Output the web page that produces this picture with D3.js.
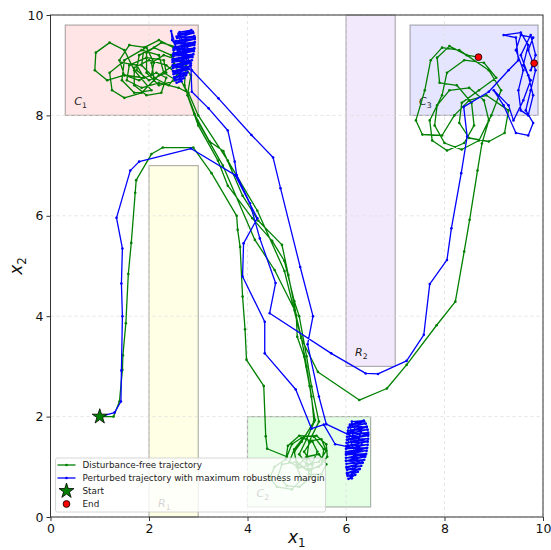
<!DOCTYPE html>
<html>
<head>
<meta charset="utf-8">
<script src="https://cdn.jsdelivr.net/npm/d3@7"></script>
<style>
  body { margin: 0; background: #fff; }
  text { font-family: "DejaVu Sans", sans-serif; }
</style>
</head>
<body>
<svg id="chart" width="551" height="550"></svg>
<script>

var xTicks = [0, 2, 4, 6, 8, 10];
var yTicks = [0, 2, 4, 6, 8, 10];

// regions: [x0, x1, y0, y1]
var regionNames = ["C1", "C2", "C3", "R1", "R2"];
var regionBounds = [[0.3, 3.0, 8.0, 9.8], [4.0, 6.5, 0.2, 2.0], [7.3, 9.9, 8.0, 9.8],
                    [2.0, 3.0, 0.0, 7.0], [6.0, 7.0, 3.0, 10.0]];

var startPoint = [1.0, 2.0];
var endPoints = [[8.69, 9.16], [9.82, 9.04]];

var greenPath = [
    [1.0,2.0],[1.28,2.0],[1.40,2.3],[1.46,2.93],[1.47,3.22],[1.53,3.86],[1.58,4.84],[1.64,5.46],[1.72,6.46],[1.74,6.71],
    [2.05,7.23],[2.28,7.36],[2.9,7.36],[3.27,6.85],[3.78,6.0],[3.8,5.72],[3.85,5.38],[3.9,4.39],[3.95,3.74],[3.98,3.13],
    [4.33,2.61],[4.37,1.61],[4.4,1.36],[4.8,1.2],
    [4.9,1.45],[5.1,1.58],[5.32,1.5],[5.42,1.3],[5.3,1.05],[5.05,0.98],[4.85,1.1],[4.95,1.35],[5.15,1.6],[5.4,1.62],
    [5.6,1.45],[5.62,1.2],[5.45,1.0],[5.2,0.95],[5.0,1.1],[4.7,1.05],[4.62,0.82],[4.8,0.62],[5.05,0.6],[5.28,0.78],
    [5.32,1.05],[5.15,1.3],[5.3,1.52],[5.5,1.55],[5.6,1.32],[5.45,1.1],[5.2,1.05],[5.05,1.25],[5.2,1.55],[5.37,1.93],
    [5.26,2.61],[5.15,3.19],[5.01,3.59],[4.99,4.02],[4.83,4.82],[4.7,5.42],[4.22,5.9],[3.9,6.4],[3.51,7.29],[3.23,7.48],
    [2.92,8.03],[2.72,8.6],
    [2.75,9.0],[2.6,9.35],[2.25,9.45],[1.95,9.25],[1.95,8.85],[2.2,8.6],[2.55,8.7],[2.3,8.85],[2.2,9.2],[1.85,9.3],
    [1.5,9.1],[1.45,8.7],[1.7,8.45],[2.05,8.5],[1.7,8.9],[1.5,9.3],[1.2,9.45],[0.92,9.25],[0.9,8.9],[1.15,8.7],
    [1.5,8.8],[1.9,8.75],[1.75,9.0],[1.45,9.05],[1.2,8.85],[1.25,8.5],[1.5,8.35],[1.85,8.45],[2.2,8.8],[2.5,9.0],
    [2.5,9.35],[2.2,9.5],[1.9,9.35],[1.85,9.0],[2.05,8.8],[2.1,9.05],[1.95,9.35],[1.6,9.4],[1.4,9.1],[1.5,8.8],
    [1.8,8.7],[2.15,8.85],[2.35,8.75],[2.25,8.45],[1.95,8.4],[1.7,8.6],[1.7,8.95],[2.0,9.1],[2.35,9.0],[2.6,8.8],
    [2.75,8.5],[2.98,7.9],[3.5,7.0],[4.15,5.52],[4.55,4.92],[4.96,4.12],[5.09,3.59],[5.2,3.0],[5.3,2.4],[5.35,1.9],
    [5.1,1.5],[4.95,1.3],[5.0,1.05],[5.25,0.92],[5.5,1.05],[5.55,1.35],[5.35,1.6],[5.05,1.62],[4.82,1.42],[4.78,1.15],
    [4.55,1.0],[4.45,0.78],[4.6,0.6],[4.9,0.55],[5.1,0.75],[5.0,1.0],[5.2,1.2],[5.45,1.25],[5.6,1.05],[5.5,0.85],
    [5.25,0.85],[5.2,1.15],[5.25,1.5],
    [5.45,1.9],[5.3,2.6],[5.2,3.2],[5.05,4.0],[4.95,4.3],[4.75,5.1],[4.5,5.5],[4.1,5.95],[3.6,6.6],[3.4,7.1],
    [3.0,7.8],[2.78,8.4],
    [2.85,8.8],[2.6,9.1],[2.3,9.2],[2.05,9.05],[2.1,8.75],[2.4,8.6],[2.6,8.85],[2.45,9.2],[2.1,9.35],[1.8,9.2],
    [1.75,8.9],[2.0,8.7],[2.35,8.85],[2.3,9.1],[1.95,9.15],[1.6,9.0],[1.55,8.7],[1.85,8.55],[2.2,8.65],[2.6,8.55],
    [2.8,8.45],
    [3.0,8.0],[3.6,7.1],[4.2,6.1],[4.75,4.9],[5.09,3.56],[5.43,2.89],[6.27,2.33],[6.83,2.56],[7.23,3.03],[7.84,3.82],
    [8.22,4.29],[8.40,5.29],[8.51,5.92],[8.67,6.9],[8.76,7.44],
    [8.9,7.9],[8.8,8.3],[8.5,8.55],[8.1,8.5],[7.85,8.2],[7.8,7.8],[8.0,7.45],[8.35,7.32],[8.7,7.5],[8.95,8.0],
    [9.15,8.5],[8.9,8.9],[8.3,9.3],[7.95,9.35],[7.72,9.1],[7.6,8.5],[7.42,7.9],[7.55,7.62],[7.95,7.6],[8.2,8.0],
    [8.5,8.3],[8.85,8.4],[9.3,8.1],[9.22,7.65],[8.9,7.48],[8.5,7.55],[8.3,7.85],[8.35,8.25],[8.7,8.5],[9.05,8.75],
    [8.8,9.05],[8.4,9.1],[8.05,8.85],[7.95,8.4],[7.7,7.9],[7.75,7.5],[8.05,7.3],[8.4,7.45],[8.6,7.8],[8.55,8.25],
    [8.25,8.6],[7.9,8.65],[7.85,9.15],[8.1,9.38],[8.45,9.2],[8.69,9.16]
];

var bluePath = [
    [1.0,2.0],[1.3,2.08],[1.43,2.3],[1.44,2.92],[1.46,4.0],[1.44,4.65],[1.46,5.35],[1.34,5.96],[1.62,6.9],[1.8,7.08],
    [2.85,7.34],[3.75,6.81],[4.2,5.95],[3.92,5.45],[3.9,4.79],[4.35,3.89],[4.35,3.26],[4.98,2.54],[5.3,1.76],[5.55,1.84],
    [5.78,1.45],[6.03,1.4],
    // hovering in C2
    [6.12,1.9],[6.36,1.92],[6.08,1.84],[6.4,1.86],[6.05,1.78],[6.42,1.8],[6.04,1.72],[6.44,1.74],[6.03,1.66],[6.45,1.68],
    [6.02,1.6],[6.45,1.62],[6.02,1.54],[6.45,1.56],[6.01,1.48],[6.44,1.5],[6.01,1.42],[6.44,1.44],[6.0,1.36],[6.43,1.38],
    [6.0,1.3],[6.42,1.32],[6.0,1.24],[6.41,1.26],[6.0,1.18],[6.39,1.2],[6.0,1.12],[6.37,1.14],[6.01,1.06],[6.34,1.08],
    [6.01,1.0],[6.31,1.02],[6.02,0.94],[6.28,0.96],[6.02,0.88],[6.24,0.9],[6.03,0.82],[6.19,0.84],[6.05,0.76],[6.12,0.77],
    [6.02,0.86],[6.27,0.95],[6.01,0.98],[6.33,1.09],[6.0,1.12],[6.39,1.23],[6.0,1.26],[6.42,1.37],[6.01,1.4],[6.44,1.51],
    [6.02,1.54],[6.45,1.65],[6.04,1.68],[6.42,1.79],[6.08,1.82],[6.37,1.9],[6.2,1.88],[6.1,1.5],[6.25,1.1],[6.1,0.8],
    [6.2,1.3],[6.3,1.7],[6.15,1.2],[6.35,1.5],
    [5.6,1.85],[5.45,2.4],[5.22,3.44],[5.33,4.0],[5.07,4.98],[4.67,6.55],[4.52,7.16],[4.08,7.61],[3.41,8.34],[2.87,8.9],
    // hovering in C1
    [2.62,9.66],[2.86,9.7],[2.6,9.6],[2.9,9.64],[2.57,9.54],[2.92,9.58],[2.55,9.48],[2.93,9.52],[2.53,9.42],[2.93,9.46],
    [2.52,9.36],[2.92,9.4],[2.5,9.3],[2.92,9.34],[2.5,9.24],[2.91,9.28],[2.49,9.18],[2.9,9.22],[2.48,9.12],[2.88,9.16],
    [2.48,9.06],[2.87,9.1],[2.48,9.0],[2.85,9.04],[2.48,8.94],[2.83,8.98],[2.49,8.88],[2.81,8.92],[2.5,8.82],[2.78,8.86],
    [2.51,8.76],[2.75,8.8],[2.53,8.7],[2.71,8.74],[2.56,8.65],[2.66,8.68],[2.52,8.73],[2.76,8.83],[2.5,8.85],[2.8,8.95],
    [2.49,8.97],[2.84,9.07],[2.48,9.09],[2.88,9.19],[2.49,9.21],[2.91,9.31],[2.5,9.33],[2.92,9.43],[2.53,9.45],[2.93,9.55],
    [2.56,9.57],[2.89,9.67],[2.6,9.63],[2.7,9.2],[2.62,8.8],[2.8,9.4],[2.65,9.0],[2.75,9.55],[2.6,9.2],
    [2.45,9.68],[2.47,9.5],[2.6,9.3],[2.85,9.0],[2.87,8.47],
    [3.21,8.14],[3.6,7.7],[3.74,7.08],[3.78,6.81],[4.05,6.25],[4.25,5.55],[4.57,4.66],[4.45,4.06],[5.7,3.26],[6.4,2.86],
    [6.65,2.85],[7.23,3.11],[7.58,3.63],[7.7,4.64],[8.05,5.12],[8.14,5.75],[8.34,6.85],[8.46,7.58],
    [8.39,8.17],[8.9,8.47],[9.3,8.9],[9.5,9.1],[9.45,9.55],[9.2,9.6],[9.55,9.65],[9.7,9.4],[9.6,9.0],[9.75,8.7],
    [9.6,8.3],[9.4,7.9],[9.3,8.2],[9.0,8.5],[9.2,8.2],[9.45,7.65],[9.7,7.6],[9.8,7.85],[9.65,8.1],[9.75,8.5],
    [9.85,8.9],[9.7,9.3],[9.8,9.55],[9.55,9.6],[9.45,9.3],[9.6,8.9],[9.5,8.5],[9.55,8.1],[9.7,8.0],[9.8,8.4],
    [9.7,8.8],[9.55,9.2],[9.75,9.6],[9.85,9.2],[9.75,8.9],[9.82,9.04]
];

var legendLabels = ["Disturbance-free trajectory", "Perturbed trajectory with maximum robustness margin", "Start", "End"];

var svg = d3.select("#chart");
var plotLeft = 50.5, plotRight = 543, plotTop = 15, plotBottom = 517;

var x = d3.scaleLinear().domain([0, 10]).range([plotLeft, plotRight]);
var y = d3.scaleLinear().domain([0, 10]).range([plotBottom, plotTop]);

var regionFill = ["#ff0000", "#00ff00", "#0000ff", "#ffff00", "#8a2be2"];

// regions
svg.selectAll("rect.region")
    .data(regionBounds)
    .enter().append("rect")
    .attr("class", "region")
    .attr("x", function(d) { return x(d[0]); })
    .attr("y", function(d) { return y(d[3]); })
    .attr("width", function(d) { return x(d[1]) - x(d[0]); })
    .attr("height", function(d) { return y(d[2]) - y(d[3]); })
    .attr("fill", function(d, i) { return regionFill[i]; })
    .attr("fill-opacity", 0.1)
    .attr("stroke", "#000")
    .attr("stroke-opacity", 0.3)
    .attr("stroke-width", 1.2);

// grid
var grid = svg.append("g").attr("stroke", "#dedede").attr("stroke-dasharray", "3,3").attr("stroke-width", 0.8);
grid.selectAll("line.gx").data(xTicks).enter().append("line")
    .attr("x1", function(d) { return x(d); }).attr("x2", function(d) { return x(d); })
    .attr("y1", plotTop).attr("y2", plotBottom);
grid.selectAll("line.gy").data(yTicks).enter().append("line")
    .attr("y1", function(d) { return y(d); }).attr("y2", function(d) { return y(d); })
    .attr("x1", plotLeft).attr("x2", plotRight);

// text with a subscript
function subLabel(g, px, py, base, sub, size, color) {
    var t = g.append("text").attr("x", px).attr("y", py)
        .attr("text-anchor", "middle").attr("font-size", size).attr("fill", color);
    t.append("tspan").attr("font-style", "italic").text(base);
    t.append("tspan").attr("font-size", size * 0.7).attr("dy", size * 0.25).text(sub);
    return t;
}
regionNames.forEach(function(n, i) {
    var b = regionBounds[i];
    subLabel(svg, x(b[0] + 0.31), y(b[2] + 0.2), n[0], n[1], 11, "#222");
});

// trajectories
var line = d3.line().x(function(d) { return x(d[0]); }).y(function(d) { return y(d[1]); });

function drawPath(data, color) {
    var g = svg.append("g");
    g.append("path").datum(data).attr("d", line)
        .attr("fill", "none").attr("stroke", color).attr("stroke-width", 1.3)
        .attr("stroke-linejoin", "round");
    g.selectAll("circle").data(data).enter().append("circle")
        .attr("cx", function(d) { return x(d[0]); })
        .attr("cy", function(d) { return y(d[1]); })
        .attr("r", 1.3).attr("fill", color);
}
drawPath(greenPath, "green");
drawPath(bluePath, "blue");

var star = d3.symbol().type(d3.symbolStar).size(70);
svg.append("path").attr("d", star)
    .attr("transform", "translate(" + x(startPoint[0]) + "," + y(startPoint[1]) + ")")
    .attr("fill", "green").attr("stroke", "#000").attr("stroke-width", 0.8);

svg.selectAll("circle.end").data(endPoints).enter().append("circle")
    .attr("class", "end")
    .attr("cx", function(d) { return x(d[0]); })
    .attr("cy", function(d) { return y(d[1]); })
    .attr("r", 3.4).attr("fill", "red").attr("stroke", "#000").attr("stroke-width", 0.8);

// axes
var xAxis = svg.append("g").attr("transform", "translate(0," + plotBottom + ")")
    .call(d3.axisBottom(x).tickValues(xTicks).tickSize(4).tickPadding(3));
var yAxis = svg.append("g").attr("transform", "translate(" + plotLeft + ",0)")
    .call(d3.axisLeft(y).tickValues(yTicks).tickSize(4).tickPadding(3));
[xAxis, yAxis].forEach(function(a) {
    a.selectAll("text").attr("font-size", 12.5).attr("fill", "#111")
        .attr("font-family", "DejaVu Sans, sans-serif");
    a.selectAll("line").attr("stroke", "#333");
    a.select(".domain").remove();
});
svg.append("rect").attr("x", plotLeft).attr("y", plotTop)
    .attr("width", plotRight - plotLeft).attr("height", plotBottom - plotTop)
    .attr("fill", "none").attr("stroke", "#333").attr("stroke-width", 1);

subLabel(svg, (plotLeft + plotRight) / 2, 543, "x", "1", 17, "#111");
var yl = subLabel(svg, 0, 0, "x", "2", 17, "#111");
yl.attr("transform", "translate(22," + ((plotTop + plotBottom) / 2) + ") rotate(-90)");

// legend
var lg = svg.append("g").attr("transform", "translate(" + (plotLeft + 5) + ",458)");
lg.append("rect").attr("width", 270).attr("height", 54).attr("rx", 2)
    .attr("fill", "#fff").attr("fill-opacity", 0.8)
    .attr("stroke", "#ccc").attr("stroke-width", 0.8);
var rowY = [7, 20, 33, 46];
legendLabels.forEach(function(lab, i) {
    var ry = rowY[i];
    if (i < 2) {
        var c = i === 0 ? "green" : "blue";
        lg.append("line").attr("x1", 2).attr("x2", 20).attr("y1", ry).attr("y2", ry)
            .attr("stroke", c).attr("stroke-width", 1.3);
        lg.append("circle").attr("cx", 11).attr("cy", ry).attr("r", 1.3).attr("fill", c);
    } else if (i === 2) {
        lg.append("path").attr("d", star).attr("transform", "translate(11," + ry + ")")
            .attr("fill", "green").attr("stroke", "#000").attr("stroke-width", 0.8);
    } else {
        lg.append("circle").attr("cx", 11).attr("cy", ry).attr("r", 3.4)
            .attr("fill", "red").attr("stroke", "#000").attr("stroke-width", 0.8);
    }
    lg.append("text").attr("x", 27).attr("y", ry + 3).attr("font-size", 8.8)
        .attr("fill", "#222").text(lab);
});

</script>
</body>
</html>
